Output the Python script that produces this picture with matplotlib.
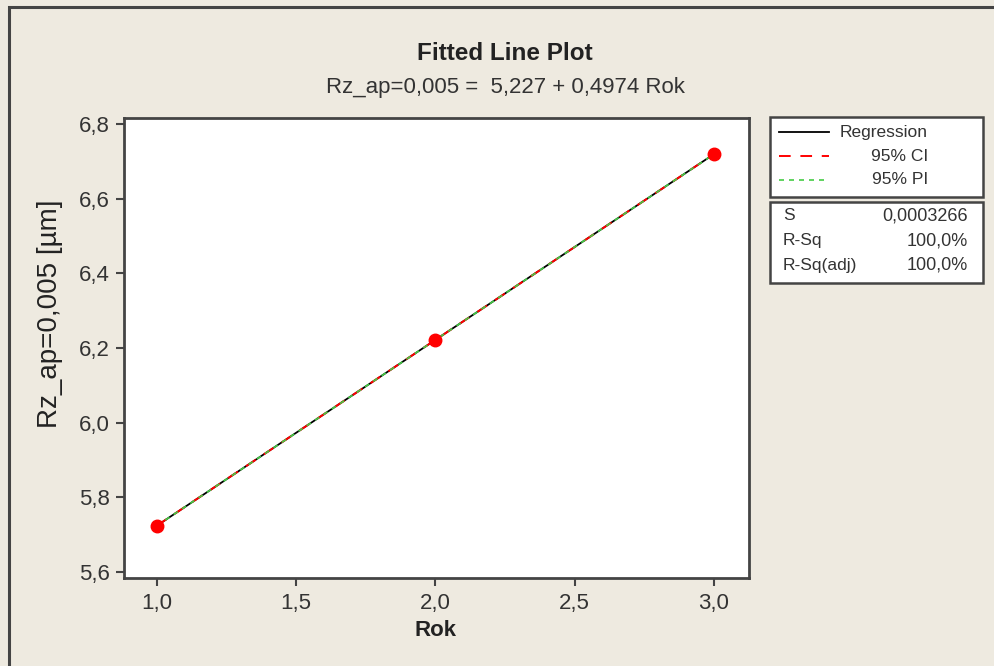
import numpy as np
import matplotlib
matplotlib.use("Agg")
import matplotlib.pyplot as plt
from matplotlib.patches import Rectangle
from matplotlib.lines import Line2D

# data
rok = [1.0, 2.0, 3.0]
rz = [5.7244, 6.2218, 6.7192]
b0, b1 = 5.227, 0.4974
xticks = [1.0, 1.5, 2.0, 2.5, 3.0]
yticks = [5.6, 5.8, 6.0, 6.2, 6.4, 6.6, 6.8]
stats_names = ["S", "R-Sq", "R-Sq(adj)"]
stats_vals = ["0,0003266", "100,0%", "100,0%"]

W, H = 994, 666
bg = '#EEEAE0'
txt = '#333333'
plt.rcParams['font.family'] = ['Liberation Sans', 'DejaVu Sans']

fig = plt.figure(figsize=(W / 100, H / 100), dpi=100, facecolor=bg)

def fx(px):
    return px / W

def fy(py):
    return 1 - py / H

# outer frame
fig.patches.append(Rectangle((fx(9), -0.2), 1.2, fy(7) + 0.2, transform=fig.transFigure,
                             fill=False, edgecolor='#444444', linewidth=2.2))

ax = fig.add_axes([fx(124), fy(578), fx(749) - fx(124), fy(118) - fy(578)])
ax.set_facecolor('white')

xf = np.array([1.0, 3.0])
yf = b0 + b1 * xf
ax.plot(xf, yf, color='black', lw=1.3, zorder=2)
ax.plot(xf, yf, color='red', lw=1.4, dashes=(6, 5), zorder=3)
ax.plot(xf, yf, color='#44CC44', lw=1.2, dashes=(3, 3), zorder=4)
ax.plot(rok, rz, 'o', color='red', ms=9, zorder=5)

ax.set_xlim(0.8815, 3.126)
ax.set_ylim(5.584, 6.816)
ax.set_xticks(xticks)
ax.set_xticklabels([f"{v:.1f}".replace('.', ',') for v in xticks])
ax.set_yticks(yticks)
ax.set_yticklabels([f"{v:.1f}".replace('.', ',') for v in yticks])
ax.tick_params(direction='out', length=6, width=1.5, color='#444444',
               labelsize=16, labelcolor=txt)
ax.tick_params(axis='x', pad=5)
ax.tick_params(axis='y', pad=4)
for s in ax.spines.values():
    s.set_color('#444444')
    s.set_linewidth(2)

fig.text(fx(505), fy(53), "Fitted Line Plot", ha='center', va='center',
         fontsize=17.5, fontweight='bold', color='#222222')
fig.text(fx(505), fy(88), "Rz_ap=0,005 =  5,227 + 0,4974 Rok", ha='center', va='center',
         fontsize=16, color=txt)
fig.text(fx(436), fy(631), "Rok", ha='center', va='center', fontsize=16,
         fontweight='bold', color='#222222')
fig.text(fx(50), fy(314), "Rz_ap=0,005 [µm]", ha='center', va='center', rotation=90,
         fontsize=20, color='#222222')

# legend box
fig.patches.append(Rectangle((fx(770), fy(197)), fx(983) - fx(770), fy(117) - fy(197),
                             transform=fig.transFigure, facecolor='white',
                             edgecolor='#444444', linewidth=1.8))
leg = [("Regression", dict(color='black', lw=1.3)),
       ("95% CI", dict(color='red', lw=1.4, dashes=(6, 5))),
       ("95% PI", dict(color='#44CC44', lw=1.2, dashes=(3, 3)))]
for i, (lab, kw) in enumerate(leg):
    yy = fy(132 + 24 * i)
    fig.add_artist(Line2D([fx(779), fx(829)], [yy, yy], transform=fig.transFigure, **kw))
    fig.text(fx(928), yy, lab, ha='right', va='center', fontsize=12.5, color=txt)

# stats box
fig.patches.append(Rectangle((fx(770), fy(283)), fx(983) - fx(770), fy(202) - fy(283),
                             transform=fig.transFigure, facecolor='white',
                             edgecolor='#444444', linewidth=1.8))
for i, (n, v) in enumerate(zip(stats_names, stats_vals)):
    yy = fy(216 + 24.5 * i)
    fig.text(fx(783), yy, n, ha='left', va='center', fontsize=12.5, color=txt)
    fig.text(fx(968), yy, v, ha='right', va='center', fontsize=13, color=txt)

fig.savefig("out.png", dpi=100, facecolor=bg)
